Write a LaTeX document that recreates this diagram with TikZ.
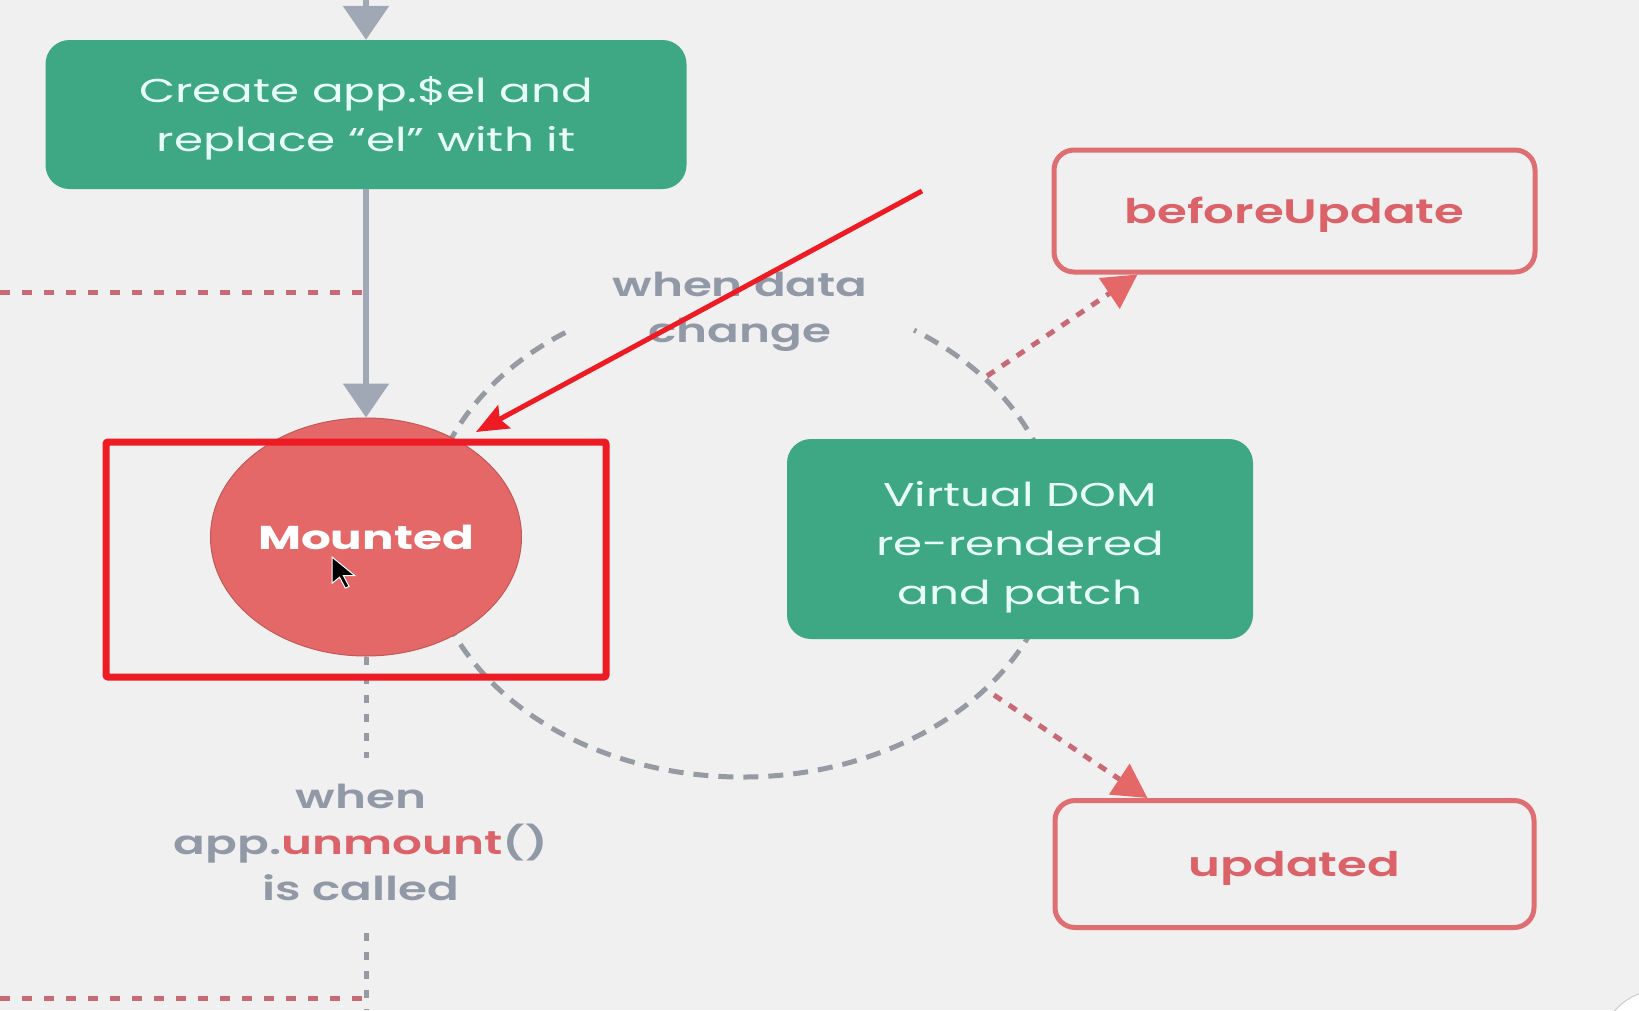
\documentclass[tikz,border=0pt]{standalone}
\usepackage{fontspec}
\setmainfont{Poppins}[FakeStretch=1.42, BoldFont={Poppins SemiBold}]
\newfontfamily\heavyfont{Poppins Bold}[FakeStretch=1.42]
\usetikzlibrary{arrows.meta,shapes.geometric}
\definecolor{bg}{RGB}{240,240,240}
\definecolor{vgreen}{RGB}{62,168,132}
\definecolor{mint}{RGB}{232,255,246}
\definecolor{vred}{RGB}{229,104,104}
\definecolor{vredline}{RGB}{222,110,114}
\definecolor{vredtext}{RGB}{218,98,104}
\definecolor{vgray}{RGB}{160,168,182}
\definecolor{vgraytext}{RGB}{146,153,166}
\definecolor{dotred}{RGB}{200,105,118}
\definecolor{loopgray}{RGB}{150,154,163}
\definecolor{annot}{RGB}{237,28,36}
\tikzset{
  greenbox/.style={rectangle, rounded corners=24pt, fill=vgreen, inner sep=0pt},
  boxtext/.style={text=mint, align=center, font=\fontsize{33}{49}\selectfont, inner sep=0pt},
  hookbox/.style={rectangle, rounded corners=20pt, draw=vredline, line width=5pt, fill=bg, inner sep=0pt},
  hooktext/.style={text=vredtext, font=\fontsize{34}{40}\selectfont\bfseries, inner sep=0pt},
  grayarrow/.style={draw=vgray, line width=6pt, -{Triangle[length=34pt,width=45pt]}},
  reddots/.style={draw=dotred, line width=5pt, dash pattern=on 10pt off 12pt},
  redarrow/.style={draw=dotred, line width=5pt, dash pattern=on 9pt off 9pt,
    -{Triangle[length=34pt,width=36pt,fill=vred,color=vred]}},
  graydots/.style={draw=loopgray, line width=5pt, dash pattern=on 8pt off 11pt},
  loopline/.style={draw=loopgray, line width=5pt, dash pattern=on 15pt off 10pt},
  graytext/.style={text=vgraytext, align=center, font=\fontsize{33}{46}\selectfont\bfseries, inner sep=0pt},
  annotline/.style={draw=annot, line width=5pt, -{Stealth[length=32pt,width=26pt,inset=5pt]}},
}
\begin{document}
\begin{tikzpicture}[x=1pt,y=1pt]
\fill[bg] (0,0) rectangle (1639,-1010);
\useasboundingbox (0,0) rectangle (1639,-1010);

% loop of data change
\coordinate (loopc) at (742,-534);
\draw[loopline] (loopc) ++(124:316pt and 243pt) arc[start angle=124, end angle=417, x radius=316pt, y radius=243pt];

% nodes
\node[greenbox, minimum width=641, minimum height=149] (create) at (366,-114.5) {};
\node[boxtext] (createtxt) at ([yshift=-4pt]create.center) {Create app.\$el and\\replace “el” with it};
\node[ellipse, fill=vred, draw=vred!85!black, line width=1pt, minimum width=311, minimum height=238, inner sep=0pt,
  text=white, font=\fontsize{33}{40}\heavyfont] (mounted) at (366,-537) {Mounted};
\node[greenbox, minimum width=466, minimum height=200] (vdom) at (1020,-539) {};
\node[boxtext] (vdomtxt) at ([yshift=-8pt]vdom.center) {Virtual DOM\\re-rendered\\and patch};
\node[hookbox, minimum width=481, minimum height=122] (before) at (1294.5,-211) {};
\node[hooktext] (beforetxt) at ([yshift=-4pt]before.center) {beforeUpdate};
\node[hookbox, minimum width=479, minimum height=127] (updated) at (1294.5,-864) {};
\node[hooktext] (updatedtxt) at ([yshift=-4pt]updated.center) {updated};
\node[graytext] (wdc) at (740,-312) {when data\\change};
\node[graytext] (unm) at (361,-842) {when\\app.{\color{vredtext}unmount}()\\is called};

% arrows
\coordinate (topin) at (366,0);
\draw[grayarrow] (topin) -- (create.north);
\draw[grayarrow] (create.south) -- (mounted.north);

% red dotted lines
\coordinate (dl1a) at (0,-292);
\coordinate (dl1b) at (366,-292);
\draw[reddots] (dl1a) -- (dl1b);
\coordinate (dl2a) at (0,-998);
\coordinate (dl2b) at (366,-998);
\draw[reddots] (dl2a) -- (dl2b);

% gray dotted vertical
\coordinate (gv1) at (366,-758);
\coordinate (gv2) at (366,-933);
\coordinate (gv3) at (366,-1010);
\draw[graydots] (mounted.south) -- (gv1);
\draw[graydots] (gv2) -- (gv3);

% hooks arrows
\coordinate (bu0) at (987,-376);
\coordinate (up0) at (994,-695);
\draw[redarrow] (bu0) -- ([xshift=86pt]before.south west);
\draw[redarrow] (up0) -- ([xshift=95pt]updated.north west);

% cursor
\begin{scope}[shift={(332,-557)}, xscale=1.9, yscale=1.55]
\filldraw[fill=black, draw=white, line width=1pt] (0,0) -- (0,-17) -- (4,-13) -- (7,-20) -- (9,-19) -- (6,-12) -- (12,-12) -- cycle;
\end{scope}

% annotation
\node[draw=annot, line width=7pt, rounded corners=2pt, minimum width=500, minimum height=235, inner sep=0pt] (annbox) at (356,-559.5) {};
\coordinate (an0) at (922,-191);
\coordinate (an1) at (476,-432);
\draw[annotline] (an0) -- (an1);

% corner widget
\coordinate (cw) at (1660,-1050);
\draw[fill=white, draw=gray!40, line width=1pt] (cw) circle (60pt);
\end{tikzpicture}
\end{document}
